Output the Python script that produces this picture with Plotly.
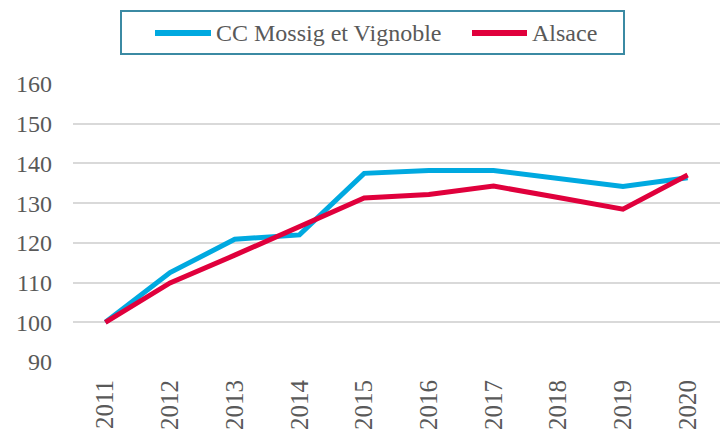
import plotly.graph_objects as go

years = ["2011", "2012", "2013", "2014", "2015", "2016", "2017", "2018", "2019", "2020"]
cc_mossig = [100, 112.5, 120.9, 122.0, 137.5, 138.2, 138.2, 136.1, 134.2, 136.4]
alsace = [100, 109.9, 116.9, 124.2, 131.3, 132.2, 134.3, 131.4, 128.5, 137.1]
y_ticks = [90, 100, 110, 120, 130, 140, 150, 160]
series_names = ["CC Mossig et Vignoble", "Alsace"]
series_colors = ["#00A9E0", "#E0003C"]

font_family = "Liberation Serif, DejaVu Serif, serif"
text_color = "#595959"

W, H = 720, 432
ML, MR, MT, MB = 73, 0, 84, 70
PW, PH = W - ML - MR, H - MT - MB


def px_x(p):
    return (p - ML) / PW


def px_y(p):
    return 1 + (MT - p) / PH


fig = go.Figure()
for name, vals, col in zip(series_names, [cc_mossig, alsace], series_colors):
    fig.add_trace(go.Scatter(x=years, y=vals, mode="lines", name=name,
                             line=dict(color=col, width=5), showlegend=False))

# legend box (drawn as shapes/annotations to match the original layout)
shapes = [dict(type="rect", xref="paper", yref="paper",
               x0=px_x(121), x1=px_x(624), y0=px_y(54), y1=px_y(11),
               line=dict(color="#3B8AA3", width=2), fillcolor="white", layer="above")]
legend_items = [(155, 211, 214), (472, 527, 530)]
annotations = []
for (lx0, lx1, tx), name, col in zip(legend_items, series_names, series_colors):
    shapes.append(dict(type="line", xref="paper", yref="paper",
                       x0=px_x(lx0), x1=px_x(lx1), y0=px_y(33), y1=px_y(33),
                       line=dict(color=col, width=6), layer="above"))
    annotations.append(dict(xref="paper", yref="paper", x=px_x(tx), y=px_y(33),
                            xanchor="left", yanchor="middle", text=name, showarrow=False,
                            font=dict(family=font_family, size=24, color=text_color)))

fig.update_layout(
    width=W, height=H,
    margin=dict(l=ML, r=MR, t=MT, b=MB, autoexpand=False),
    paper_bgcolor="white", plot_bgcolor="white",
    font=dict(family=font_family, size=24, color=text_color),
    showlegend=False,
    shapes=shapes,
    annotations=annotations,
    xaxis=dict(type="category", range=[-0.5, 9.5], tickangle=-90, showgrid=False,
               showline=False, zeroline=False, ticks="", ticklabelstandoff=12,
               automargin=False,
               tickfont=dict(family=font_family, size=25, color=text_color)),
    yaxis=dict(range=[90, 160], tickvals=y_ticks, showgrid=True, gridcolor="#D9D9D9",
               gridwidth=2, zeroline=False, showline=False, ticks="", ticklabelstandoff=20,
               automargin=False,
               tickfont=dict(family=font_family, size=24, color=text_color)),
)

fig.write_html("out.html", config={"displayModeBar": False},
               post_script="document.body.style.margin='0';")
